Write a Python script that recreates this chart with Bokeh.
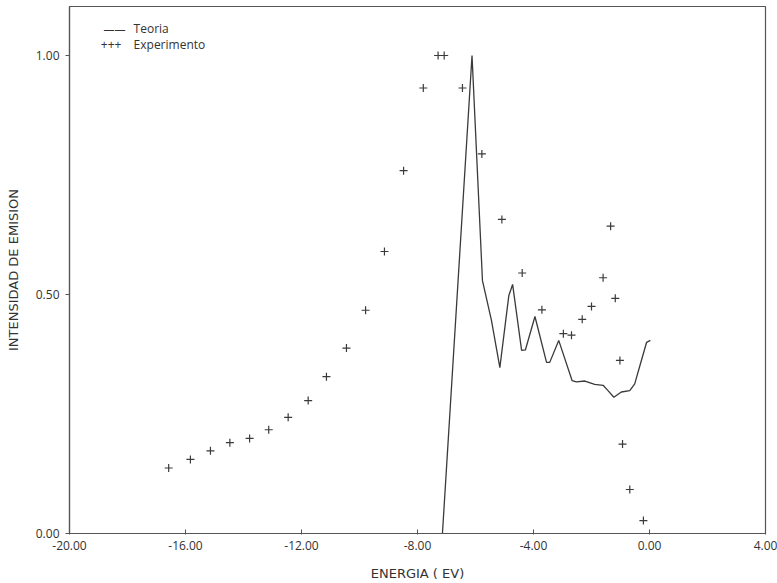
from bokeh.plotting import figure
from bokeh.models import Range1d, FixedTicker, NumeralTickFormatter, Label
from bokeh.embed import file_html
from bokeh.resources import INLINE

# Theory curve (Teoria)
teoria_x = [-7.14, -6.12, -5.76, -5.45, -5.16, -4.85, -4.72, -4.41, -4.28, -3.95,
            -3.55, -3.44, -3.13, -2.67, -2.52, -2.23, -1.89, -1.60, -1.43, -1.23,
            -0.97, -0.68, -0.51, -0.28, -0.10, 0.03]
teoria_y = [0.0, 1.0, 0.529, 0.446, 0.347, 0.498, 0.521, 0.383, 0.384, 0.454,
            0.358, 0.358, 0.404, 0.320, 0.317, 0.319, 0.312, 0.310, 0.299, 0.285,
            0.296, 0.299, 0.313, 0.362, 0.400, 0.404]

# Experimental points (Experimento)
exp_x = [-16.58, -15.83, -15.14, -14.47, -13.79, -13.13, -12.46, -11.77, -11.14, -10.45,
         -9.79, -9.14, -8.48, -7.80, -7.29, -7.08, -6.45, -5.78, -5.09, -4.39,
         -3.71, -2.97, -2.69, -2.32, -2.00, -1.60, -1.34, -1.18, -1.02, -0.93,
         -0.68, -0.21]
exp_y = [0.137, 0.155, 0.173, 0.190, 0.199, 0.217, 0.243, 0.278, 0.328, 0.388,
         0.467, 0.590, 0.759, 0.932, 1.0, 1.0, 0.932, 0.794, 0.657, 0.545,
         0.468, 0.418, 0.415, 0.448, 0.475, 0.535, 0.643, 0.492, 0.362, 0.187,
         0.092, 0.027]

x_ticks = [-20, -16, -12, -8, -4, 0, 4]
y_ticks = [0.0, 0.5, 1.0]

FONT = "Open Sans"
LABEL_FONT = "DejaVu Sans"
TXT = "#333333"
INK = "#3a3a3a"

p = figure(frame_width=696, frame_height=527, output_backend="svg", toolbar_location=None,
           x_range=Range1d(-20, 4), y_range=Range1d(0, 1.1025),
           min_border_left=69, min_border_right=12, min_border_top=6, min_border_bottom=48)
p.grid.visible = False
p.outline_line_color = "#555555"
p.outline_line_width = 1.2

p.line(teoria_x, teoria_y, line_color=INK, line_width=1.3)
p.scatter(exp_x, exp_y, marker="cross", size=8, line_color=INK, line_width=1.2)

for ax in (p.xaxis[0], p.yaxis[0]):
    ax.axis_line_color = "#555555"
    ax.axis_line_width = 1.2
    ax.major_tick_line_color = "#555555"
    ax.minor_tick_line_color = None
    ax.major_label_text_font = FONT
    ax.major_label_text_font_size = "12px"
    ax.major_label_text_color = TXT
    ax.axis_label_text_font = LABEL_FONT
    ax.axis_label_text_font_size = "13px"
    ax.axis_label_text_font_style = "normal"
    ax.axis_label_text_color = TXT
    ax.formatter = NumeralTickFormatter(format="0.00")

p.xaxis.ticker = FixedTicker(ticks=x_ticks)
p.yaxis.ticker = FixedTicker(ticks=y_ticks)
p.xaxis.major_tick_in = 4
p.xaxis.major_tick_out = 1
p.yaxis.major_tick_in = 0
p.yaxis.major_tick_out = 4
p.xaxis.major_label_standoff = 6
p.yaxis.major_label_standoff = 6
p.xaxis.axis_label = "ENERGIA ( EV)"
p.yaxis.axis_label = "INTENSIDAD DE EMISION"
p.xaxis.axis_label_standoff = 13
p.yaxis.axis_label_standoff = 12

# legend drawn as text labels
leg = dict(text_font=FONT, text_font_size="12px", text_color=TXT, text_baseline="middle")
p.add_layout(Label(x=-18.83, y=1.056, text="——", text_font=FONT, text_font_size="11px",
                   text_color=TXT, text_baseline="middle"))
p.add_layout(Label(x=-17.79, y=1.056, text="Teoria", **leg))
p.add_layout(Label(x=-18.92, y=1.023, text="+++", **leg))
p.add_layout(Label(x=-17.79, y=1.023, text="Experimento", **leg))

open("out.html", "w").write(file_html(p, INLINE))
